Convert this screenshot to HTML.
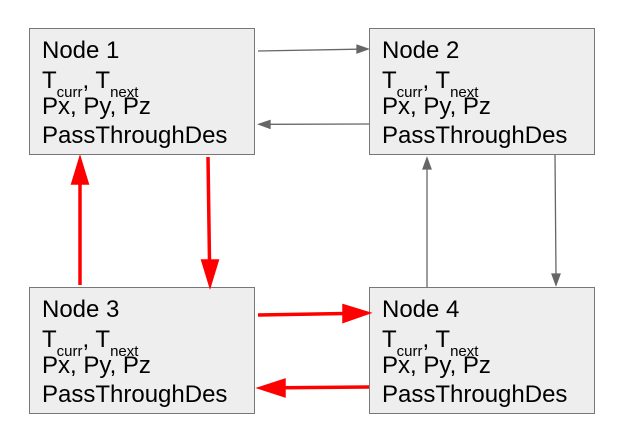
<!DOCTYPE html>
<html><head><style>
body{margin:0;width:622px;height:444px;background:#fff;overflow:hidden;position:relative;font-family:"Liberation Sans",Arial,sans-serif;}
.b{position:absolute;width:224px;height:125px;background:#eeeeee;border:1.5px solid #777;}
.t{position:absolute;left:12px;font-size:24px;color:#000;white-space:nowrap;line-height:1;}
sub{font-size:15px;vertical-align:-9px;}
svg{position:absolute;left:0;top:0;}
</style></head><body>
<div class="b" style="left:29px;top:28px">
<div class="t" style="top:10px">Node 1</div>
<div class="t" style="top:40px">T<sub>curr</sub>, T<sub>next</sub></div>
<div class="t" style="top:66px">Px, Py, Pz</div>
<div class="t" style="top:95px">PassThroughDes</div></div>
<div class="b" style="left:369px;top:28px">
<div class="t" style="top:10px">Node 2</div>
<div class="t" style="top:40px">T<sub>curr</sub>, T<sub>next</sub></div>
<div class="t" style="top:66px">Px, Py, Pz</div>
<div class="t" style="top:95px">PassThroughDes</div></div>
<div class="b" style="left:29px;top:287px">
<div class="t" style="top:10px">Node 3</div>
<div class="t" style="top:40px">T<sub>curr</sub>, T<sub>next</sub></div>
<div class="t" style="top:66px">Px, Py, Pz</div>
<div class="t" style="top:95px">PassThroughDes</div></div>
<div class="b" style="left:369px;top:287px">
<div class="t" style="top:10px">Node 4</div>
<div class="t" style="top:40px">T<sub>curr</sub>, T<sub>next</sub></div>
<div class="t" style="top:66px">Px, Py, Pz</div>
<div class="t" style="top:95px">PassThroughDes</div></div>
<svg width="622" height="444">
<g stroke="#666" stroke-width="1.3" fill="#666">
<line x1="258" y1="51" x2="358" y2="49.2"/><polygon points="368,49 357,45.2 357,53"/>
<line x1="369" y1="124" x2="269" y2="124.3"/><polygon points="259,124.3 270,120.5 270,128.3"/>
<line x1="427" y1="287" x2="427" y2="168"/><polygon points="427,158 423,169 431,169"/>
<line x1="555" y1="155" x2="556" y2="275"/><polygon points="556,285 552,274 560,274"/>
</g>
<g stroke="#ff0000" stroke-width="3.5" fill="#ff0000">
<line x1="208" y1="157" x2="209.5" y2="262"/><polygon points="210,284 203,261 217,261"/>
<line x1="80" y1="285" x2="80" y2="182"/><polygon points="80,160 73,183 87,183"/>
<line x1="258" y1="315" x2="345" y2="313.5"/><polygon points="367,313 344,306 344,321"/>
<line x1="369" y1="387" x2="283" y2="387.8"/><polygon points="261,388 284,380.5 284,395.5"/>
</g>
</svg>
</body></html>
